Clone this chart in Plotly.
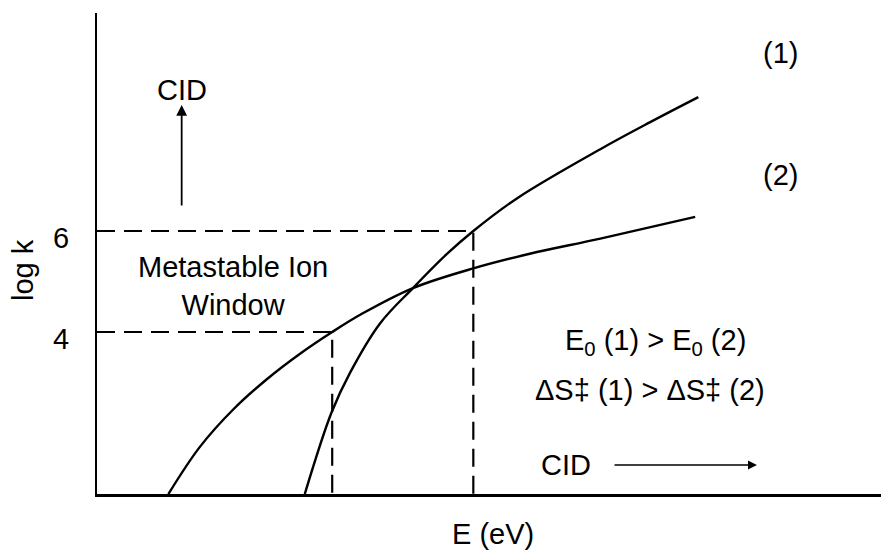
import plotly.graph_objects as go

# Curve (1): higher E0, higher entropy -> steeper rise
E_curve1 = [2.65, 2.99, 3.23, 3.61, 4.03, 4.46, 4.80, 5.37, 6.42, 7.05, 7.67]
logk_curve1 = [0.79, 2.40, 3.20, 4.17, 4.87, 5.54, 6.00, 6.66, 7.62, 8.15, 8.65]

# Curve (2): lower E0, lower entropy -> flatter
E_curve2 = [0.91, 1.31, 1.74, 2.17, 2.59, 3.00, 3.39, 4.03, 4.80, 5.52, 6.42, 7.63]
logk_curve2 = [0.79, 1.72, 2.47, 3.07, 3.57, 4.00, 4.37, 4.87, 5.26, 5.55, 5.85, 6.28]

# Metastable ion window bounds (log k) and the energies where curves reach them
window_logk = [6, 4]
window_E = [4.80, 3.00]

tick_vals = [4, 6]
tick_text = ["4", "6"]

Y_MIN, Y_MAX = 0.792, 10.317
X_MIN, X_MAX = 0, 10

FONT = "Arial, Liberation Sans, sans-serif"
FS = 29

fig = go.Figure()

# dashed window lines
for lk, e in zip(window_logk, window_E):
    fig.add_trace(go.Scatter(
        x=[X_MIN, e, e], y=[lk, lk, Y_MIN], mode="lines",
        line=dict(color="black", width=2.2, dash="18px,9px"),
        hoverinfo="skip", showlegend=False, cliponaxis=False))

for xs, ys in [(E_curve1, logk_curve1), (E_curve2, logk_curve2)]:
    fig.add_trace(go.Scatter(
        x=xs, y=ys, mode="lines",
        line=dict(color="black", width=2.4, shape="spline", smoothing=1.0),
        showlegend=False, cliponaxis=False))

ann = []
def txt(x, y, s, **kw):
    d = dict(x=x, y=y, xref="x", yref="y", text=s, showarrow=False,
             xanchor="center", yanchor="middle",
             font=dict(family=FONT, size=FS, color="black"))
    d.update(kw)
    ann.append(d)

txt(1.735, 4.91, "Metastable Ion<br>Window")
txt(1.08, 8.80, "CID")
txt(8.712, 9.52, "(1)")
txt(8.712, 7.11, "(2)")
txt(7.13, 3.80, "E<sub>0</sub> (1) > E<sub>0</sub> (2)")
txt(7.054, 2.85, "ΔS‡ (1) > ΔS‡ (2)")
txt(5.976, 1.37, "CID")

# arrows
ann.append(dict(x=1.08, y=8.495, ax=1.08, ay=6.475, xref="x", yref="y",
                axref="x", ayref="y", text="", showarrow=True,
                arrowhead=2, arrowsize=1.2, arrowwidth=1.8, arrowcolor="black"))
ann.append(dict(x=8.418, y=1.366, ax=6.582, ay=1.366, xref="x", yref="y",
                axref="x", ayref="y", text="", showarrow=True,
                arrowhead=2, arrowsize=1.2, arrowwidth=1.5, arrowcolor="black"))

# axis titles
ann.append(dict(x=(23 - 97) / 784, y=(494 - 270) / 481, xref="paper", yref="paper",
                xanchor="center", yanchor="middle",
                text="log k", textangle=-90, showarrow=False,
                font=dict(family=FONT, size=FS, color="black")))
ann.append(dict(x=(493 - 97) / 784, y=(494 - 534) / 481, xref="paper", yref="paper",
                xanchor="center", yanchor="middle",
                text="E (eV)", showarrow=False,
                font=dict(family=FONT, size=FS, color="black")))

fig.update_layout(
    width=881, height=550,
    margin=dict(l=97, r=0, t=13, b=56),
    paper_bgcolor="white", plot_bgcolor="white",
    annotations=ann,
    xaxis=dict(range=[X_MIN, X_MAX], showline=True, linewidth=3, linecolor="black",
               showgrid=False, zeroline=False, showticklabels=False, ticks=""),
    yaxis=dict(range=[Y_MIN, Y_MAX], showline=True, linewidth=2, linecolor="black",
               showgrid=False, zeroline=False, tickvals=tick_vals, ticktext=tick_text,
               ticks="", ticklabelstandoff=20, ticklabelshift=7,
               tickfont=dict(family=FONT, size=FS, color="black")),
)

fig.write_html("out.html")
